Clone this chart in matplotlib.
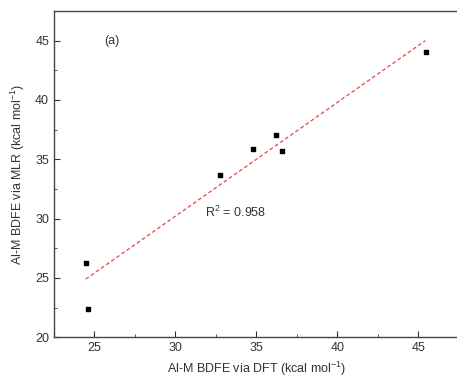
import numpy as np
import matplotlib.pyplot as plt
from matplotlib.ticker import MultipleLocator

plt.rcParams['font.family'] = ['Liberation Sans', 'DejaVu Sans']
plt.rcParams['mathtext.fontset'] = 'custom'
plt.rcParams['mathtext.rm'] = 'Liberation Sans'

# datos
bdfe_dft = [24.48, 24.59, 32.78, 34.79, 36.19, 36.58, 45.49]
bdfe_mlr = [26.24, 22.41, 33.68, 35.89, 37.05, 35.67, 44.02]

# recta de ajuste (extremos)
ajuste_x = [24.46, 45.43]
ajuste_y = [24.9, 45.0]
r2 = 0.958

fig = plt.figure(figsize=(4.57, 3.79), dpi=100)
ax = fig.add_axes([0.118, 0.110, 0.886, 0.861])

ax.plot(ajuste_x, ajuste_y, color='#e04848', linestyle='--', linewidth=0.9, dashes=(3, 2))
ax.scatter(bdfe_dft, bdfe_mlr, marker='s', s=12, color='black', zorder=3)

ax.set_xlim(22.5, 47.5)
ax.set_ylim(20, 47.5)
ax.xaxis.set_major_locator(MultipleLocator(5))
ax.xaxis.set_minor_locator(MultipleLocator(2.5))
ax.yaxis.set_major_locator(MultipleLocator(5))
ax.yaxis.set_minor_locator(MultipleLocator(2.5))
ax.tick_params(which='both', direction='in', labelsize=9, color='#333333', labelcolor='#333333')
ax.tick_params(which='major', length=4)
ax.tick_params(which='minor', length=2.5)
for s in ax.spines.values():
    s.set_color('#444444')
    s.set_linewidth(1.0)

ax.set_xlabel('Al-M BDFE via DFT (kcal mol$^{\\mathregular{-1}}$)', fontsize=9, color='#333333', labelpad=4)
ax.set_ylabel('Al-M BDFE via MLR (kcal mol$^{\\mathregular{-1}}$)', fontsize=9, color='#333333', labelpad=6)

ax.text(25.6, 45, '(a)', fontsize=9, color='#333333', va='center')
ax.text(31.8, 30.5, f'R$^{{\\mathregular{{2}}}}$ = {r2}', fontsize=9, color='#333333', va='center')

fig.savefig('out.png', dpi=100)
